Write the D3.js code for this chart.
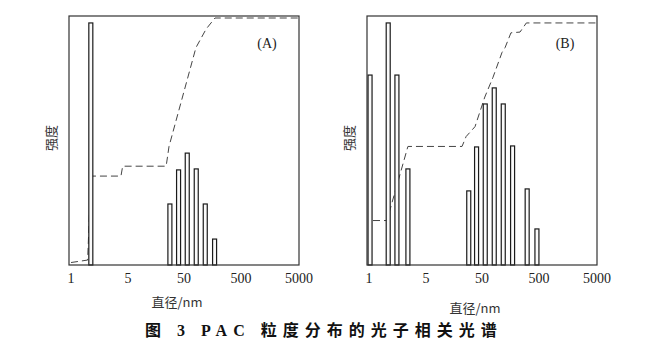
<!DOCTYPE html>
<html>
<head>
<meta charset="utf-8">
<script src="https://cdn.jsdelivr.net/npm/d3@7.9.0/dist/d3.min.js"></script>
<style>
  body { margin: 0; background: #fff; }
  svg { display: block; }
  .tick-label { font-family: "Liberation Serif", "DejaVu Serif", serif; font-size: 14px; fill: #222; }
  .cjk { font-family: "Noto Sans CJK SC", sans-serif; fill: #333; }
</style>
</head>
<body>
<svg id="chart" width="659" height="363"></svg>
<script>
// x axis tick labels (diameter, nm)
const xTicks = [1, 5, 50, 500, 5000];

// Panel A: bars (diameter nm, intensity %)
const sizesA = [1.75, 28, 40, 57, 82, 118, 172];
const intensityA = [98, 24.7, 38.5, 45.3, 38.9, 24.7, 10.5];
// Panel A: cumulative curve
const cumSizesA = [1, 1.6, 1.75, 4.1, 4.3, 24, 27, 81, 122, 175, 5000];
const cumA = [1, 2, 36, 36, 40, 40, 48, 88, 95.5, 100, 100];

// Panel B
const sizesB = [1.03, 1.72, 2.2, 3.0, 29, 40, 57, 82, 118, 172, 310, 460];
const intensityB = [76.9, 98, 76.9, 38.9, 30, 47.8, 65.2, 71.7, 65.2, 48.2, 30.8, 14.6];
const cumSizesB = [1.12, 1.66, 3.0, 22, 26, 37.5, 56, 78, 112, 127, 161, 232, 300, 5000];
const cumB = [18, 18, 48, 48, 52, 56, 68, 76, 86, 88, 94, 94.3, 98, 98];

const svg = d3.select("#chart");

// shared layout
const frameTop = 16, frameBottom = 265, frameW = 230;
const y = d3.scaleLinear().domain([0, 100]).range([frameBottom, 18]);

function drawPanel(left, sizes, values, cumSizes, cumVals, tag, xLabelY) {
    const g = svg.append("g");

    // the printed axis has evenly spaced labels, so use a piecewise log scale
    const x = d3.scaleLog()
        .domain(xTicks)
        .range([2, 59, 115, 172, 230].map(d => left + d));

    // cumulative curve (drawn first so the bars sit on top)
    const line = d3.line()
        .x((d, i) => x(cumSizes[i]))
        .y(d => y(d));
    g.append("path")
        .attr("d", line(cumVals))
        .attr("fill", "none")
        .attr("stroke", "#444")
        .attr("stroke-width", 1)
        .attr("stroke-dasharray", "7,4");

    // bars
    g.selectAll("rect.bar")
        .data(values)
        .enter()
        .append("rect")
        .attr("class", "bar")
        .attr("x", (d, i) => x(sizes[i]) - 2)
        .attr("y", d => y(d))
        .attr("width", 4)
        .attr("height", d => frameBottom - y(d))
        .attr("fill", "#fafafa")
        .attr("stroke", "#1a1a1a")
        .attr("stroke-width", 1.2);

    // frame
    g.append("rect")
        .attr("x", left)
        .attr("y", frameTop)
        .attr("width", frameW)
        .attr("height", frameBottom - frameTop)
        .attr("fill", "none")
        .attr("stroke", "#333")
        .attr("stroke-width", 1.2);

    // tick labels
    g.selectAll("text.tick-label")
        .data(xTicks)
        .enter()
        .append("text")
        .attr("class", "tick-label")
        .attr("x", d => x(d))
        .attr("y", 283)
        .attr("text-anchor", "middle")
        .text(d => d);

    // panel tag
    g.append("text")
        .attr("class", "tick-label")
        .attr("x", left + 198)
        .attr("y", 48)
        .attr("text-anchor", "middle")
        .text(tag);

    // y label
    g.append("text")
        .attr("class", "cjk")
        .attr("transform", `translate(${left - 13},138) rotate(-90)`)
        .attr("text-anchor", "middle")
        .attr("font-size", 13)
        .text("强度");

    // x label
    g.append("text")
        .attr("class", "cjk")
        .attr("x", left + 108)
        .attr("y", xLabelY)
        .attr("text-anchor", "middle")
        .attr("font-size", 13)
        .text("直径/nm");
}

drawPanel(69, sizesA, intensityA, cumSizesA, cumA, "(A)", 307);
drawPanel(367, sizesB, intensityB, cumSizesB, cumB, "(B)", 313);

// caption
svg.append("text")
    .attr("x", 145)
    .attr("y", 336)
    .attr("font-family", "'Liberation Serif', 'Noto Sans CJK SC', serif")
    .attr("font-weight", "bold")
    .attr("font-size", 16)
    .attr("letter-spacing", 6)
    .attr("fill", "#111")
    .text("图 3  PAC 粒度分布的光子相关光谱");
</script>
</body>
</html>
